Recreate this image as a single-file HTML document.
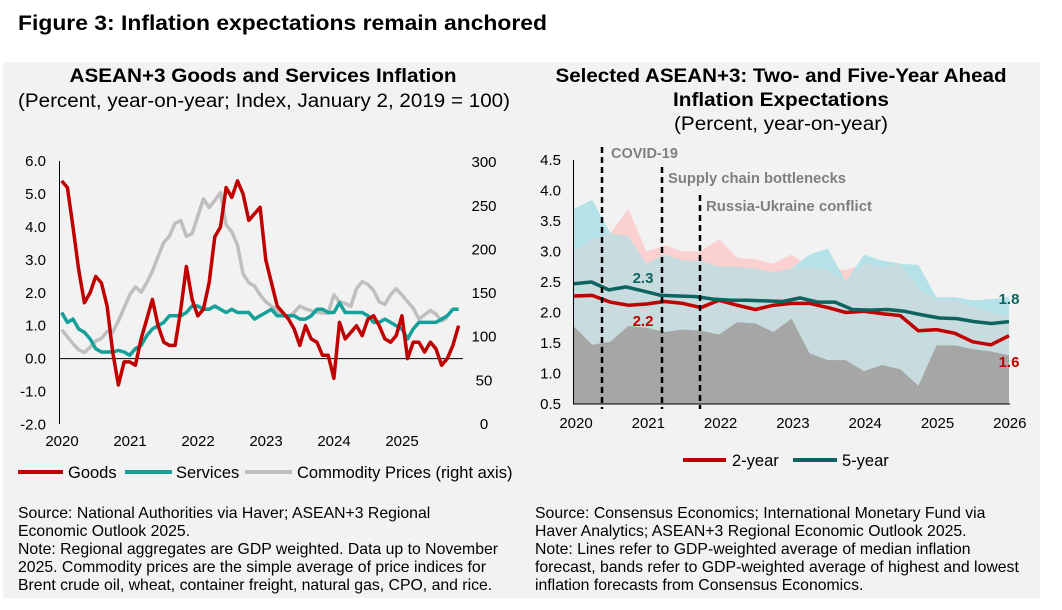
<!DOCTYPE html>
<html><head><meta charset="utf-8"><style>
body{margin:0;width:1062px;height:610px;background:#fff;font-family:"Liberation Sans",Arial,sans-serif;overflow:hidden;position:relative}
.t{position:absolute;white-space:nowrap}
</style></head><body>
<div style="position:absolute;left:3px;top:62px;width:1037px;height:536px;background:#f2f2f2"></div>
<svg id="s" width="1062" height="610" style="position:absolute;left:0;top:0" font-family="Liberation Sans, Arial, sans-serif"></svg>
<div class="t" style="left:18px;top:505px;font-size:15.8px;line-height:18px">Source: National Authorities via Haver; ASEAN+3 Regional<br>Economic Outlook 2025.<br>Note: Regional aggregates are GDP weighted. Data up to November<br>2025. Commodity prices are the simple average of price indices for<br>Brent crude oil, wheat, container freight, natural gas, CPO, and rice.</div>
<div class="t" style="left:535px;top:505px;font-size:15.8px;line-height:18px">Source: Consensus Economics; International Monetary Fund via<br>Haver Analytics; ASEAN+3 Regional Economic Outlook 2025.<br>Note: Lines refer to GDP-weighted average of median inflation<br>forecast, bands refer to GDP-weighted average of highest and lowest<br>inflation forecasts from Consensus Economics.</div>
<script>
var o='';
function T(x,y,s,a,st){o+='<text x="'+x+'" y="'+y+'" text-anchor="'+(a||'start')+'" '+(st||'font-size="15"')+'>'+s+'</text>';}
function P(pts){return pts.map(function(p,i){return (i?'L':'M')+p[0].toFixed(1)+','+p[1].toFixed(1)}).join('');}
// titles
T(18,30,'Figure 3: Inflation expectations remain anchored','start','font-size="21" font-weight="bold" textLength="529" lengthAdjust="spacingAndGlyphs"');
T(263,82,'ASEAN+3 Goods and Services Inflation','middle','font-size="19" font-weight="bold" textLength="387" lengthAdjust="spacingAndGlyphs"');
T(264,107,'(Percent, year-on-year; Index, January 2, 2019 = 100)','middle','font-size="19" textLength="492" lengthAdjust="spacingAndGlyphs"');
T(781,82,'Selected ASEAN+3: Two- and Five-Year Ahead','middle','font-size="19" font-weight="bold" textLength="451" lengthAdjust="spacingAndGlyphs"');
T(781,106,'Inflation Expectations','middle','font-size="19" font-weight="bold" textLength="216" lengthAdjust="spacingAndGlyphs"');
T(781,130,'(Percent, year-on-year)','middle','font-size="19" textLength="214" lengthAdjust="spacingAndGlyphs"');
// left chart
var ly=function(v){return 358.6-v*32.9}, ry=function(v){return 424-v*0.873}, lx=function(i){return 61.7+i*5.67};
for(var k=0;k<=8;k++){var v=6-k;T(46,ly(v)+5,v.toFixed(1),'end');}
for(k=0;k<=6;k++){T(484,ry(300-k*50)+5,300-k*50,'middle');}
['2020','2021','2022','2023','2024','2025'].forEach(function(y,i){T(62+i*68,446,y,'middle');});
o+='<line x1="59.5" y1="161" x2="59.5" y2="424" stroke="#000"/><line x1="59" y1="358.6" x2="463" y2="358.6" stroke="#000"/>';
var goods=[5.4,5.2,4.0,2.7,1.7,2.0,2.5,2.3,1.6,0.2,-0.8,-0.1,-0.1,-0.2,0.6,1.2,1.8,1.0,0.5,0.4,0.4,1.5,2.8,1.8,1.3,1.5,2.3,3.7,4.0,5.2,4.9,5.4,5.0,4.2,4.4,4.6,3.0,2.3,1.6,1.4,1.2,0.9,0.4,1.0,0.6,0.5,0.1,0.1,-0.6,1.1,0.6,0.8,1.0,0.7,1.2,1.3,1.0,0.6,0.5,0.7,1.3,0.0,0.5,0.5,0.2,0.5,0.3,-0.2,0.0,0.4,1.0];
var serv=[1.4,1.1,1.2,0.9,0.8,0.6,0.3,0.2,0.2,0.2,0.25,0.2,0.1,0.3,0.4,0.7,0.9,1.0,1.1,1.3,1.3,1.3,1.4,1.6,1.6,1.5,1.5,1.6,1.5,1.4,1.5,1.4,1.4,1.4,1.2,1.3,1.4,1.5,1.3,1.3,1.3,1.3,1.2,1.2,1.3,1.5,1.5,1.4,1.4,1.7,1.4,1.4,1.4,1.4,1.3,1.1,1.1,1.2,1.1,1.0,0.9,0.6,0.9,1.1,1.1,1.1,1.1,1.2,1.3,1.5,1.5];
var com=[108,100,92,85,82,88,95,98,106,105,118,133,148,157,151,162,175,192,208,215,230,233,215,218,238,258,248,256,265,228,220,205,172,162,158,148,140,135,130,125,122,128,135,132,130,128,127,127,148,140,138,135,155,163,160,153,140,137,148,155,148,140,133,120,125,130,126,118,122];
function line(d,f,c){o+='<path d="'+P(d.map(function(v,i){return [lx(i),f(v)]}))+'" fill="none" stroke="'+c+'" stroke-width="3.5" stroke-linejoin="round"/>';}
line(com,ry,'#bfbfbf');line(serv,ly,'#16a09a');line(goods,ly,'#c00000');
[[18,63,'#c00000',68,'Goods'],[125,172,'#16a09a',176,'Services'],[245,292,'#bfbfbf',297,'Commodity Prices (right axis)']].forEach(function(l){o+='<line x1="'+l[0]+'" y1="472" x2="'+l[1]+'" y2="472" stroke="'+l[2]+'" stroke-width="4"/>';T(l[3],478,l[4],'start','font-size="16.5"');});
// right chart
var y2=function(v){return 404-(v-0.5)*61}, x2=function(i,n){return 574+i*435/(n-1)};
for(k=0;k<=8;k++){var v2=4.5-k*0.5;T(561,y2(v2)+5,v2.toFixed(1),'end');}
for(k=0;k<=6;k++)T(576+k*72.3,428,2020+k,'middle');
function area(hi,c){var n=hi.length;var pts=hi.map(function(v,i){return [x2(i,n),y2(v)]});pts.push([x2(n-1,n),404],[574,404]);o+='<path d="'+P(pts)+'Z" fill="'+c+'"/>';}
var pink=[3.0,3.2,3.3,3.7,3.0,3.1,3.0,3.0,3.2,2.9,2.87,2.8,2.95,2.75,2.7,2.7,2.8,2.75,2.8,2.4,2.2,2.2,2.1,2.0,1.95];
var teal=[3.7,3.85,3.3,3.25,2.8,2.95,2.85,2.85,2.75,2.75,2.72,2.66,2.72,2.95,3.05,2.5,2.95,2.85,2.8,2.78,2.25,2.25,2.2,2.22,2.25];
var mn=pink.map(function(v,i){return Math.min(v,teal[i])});
var gray=[1.77,1.47,1.52,1.78,1.75,1.68,1.72,1.7,1.64,1.84,1.82,1.68,1.9,1.33,1.22,1.22,1.04,1.14,1.07,0.8,1.46,1.46,1.4,1.36,1.3];
area(pink,'#fbd0d0');area(teal,'#b5e2e8');area(mn,'#c8dbde');area(gray,'#a6a6a6');
o+='<line x1="573.5" y1="160" x2="573.5" y2="404" stroke="#000"/><line x1="573" y1="404" x2="1010" y2="404" stroke="#000"/>';
var f5=[2.47,2.5,2.37,2.42,2.35,2.28,2.27,2.26,2.22,2.2,2.2,2.19,2.18,2.24,2.17,2.17,2.05,2.04,2.05,2.02,1.96,1.91,1.9,1.85,1.82,1.85];
var f2=[2.27,2.28,2.17,2.12,2.14,2.18,2.15,2.08,2.2,2.12,2.05,2.12,2.15,2.15,2.08,2.0,2.02,1.98,1.95,1.7,1.72,1.66,1.52,1.47,1.62];
function rl(d,c){var n=d.length;o+='<path d="'+P(d.map(function(v,i){return [x2(i,n),y2(v)]}))+'" fill="none" stroke="'+c+'" stroke-width="3.5" stroke-linejoin="round"/>';}
rl(f2,'#c00000');rl(f5,'#0e6360');
[[602,147],[662,167],[700,195]].forEach(function(d){o+='<line x1="'+d[0]+'" y1="'+d[1]+'" x2="'+d[0]+'" y2="409" stroke="#000" stroke-width="2.5" stroke-dasharray="6,4"/>';});
var gb='font-size="14.5" font-weight="bold" fill="#7f7f7f"';
T(611,158,'COVID-19','start',gb);T(668,183,'Supply chain bottlenecks','start',gb+' textLength="178" lengthAdjust="spacingAndGlyphs"');T(706,211,'Russia-Ukraine conflict','start',gb+' textLength="166" lengthAdjust="spacingAndGlyphs"');
T(643,283,'2.3','middle','font-size="15" font-weight="bold" fill="#0e6360"');
T(643,326,'2.2','middle','font-size="15" font-weight="bold" fill="#c00000"');
T(1009,304,'1.8','middle','font-size="15" font-weight="bold" fill="#0e6360"');
T(1009,367,'1.6','middle','font-size="15" font-weight="bold" fill="#c00000"');
o+='<line x1="683" y1="460" x2="726" y2="460" stroke="#c00000" stroke-width="4"/><line x1="793" y1="460" x2="837" y2="460" stroke="#0e6360" stroke-width="4"/>';
T(732,466,'2-year','start','font-size="16.5"');T(842,466,'5-year','start','font-size="16.5"');
document.getElementById('s').innerHTML=o;
</script>
</body></html>
